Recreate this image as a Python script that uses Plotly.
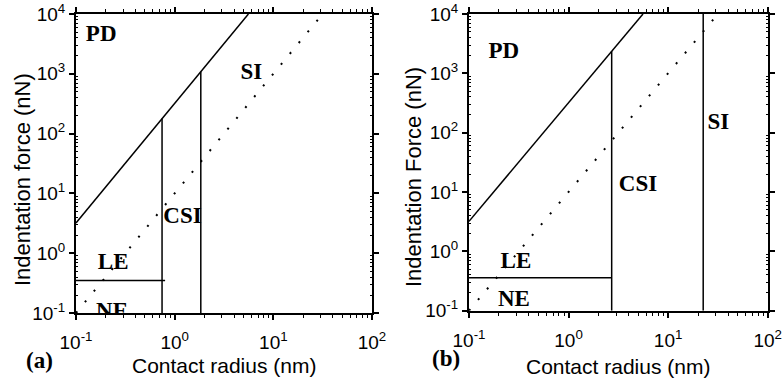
import plotly.graph_objects as go

# ---------------- data ----------------
# PD / elastic boundary (solid), same in both panels
pd_a = [0.1, 5.59]
pd_F = [3.2, 10000]
# dotted line, same in both panels
dot_a = [0.1, 31.6]
dot_F = [0.1, 10000]

# panel (a)
a_v1_a = [0.745, 0.745]
a_v1_F = [0.1, 178]
a_v2_a = [1.84, 1.84]
a_v2_F = [0.1, 1083]
a_h_a = [0.1, 0.8]
a_h_F = [0.35, 0.35]

# panel (b)
b_v1_a = [2.71, 2.71]
b_v1_F = [0.1, 2350]
b_v2_a = [22.5, 22.5]
b_v2_F = [0.1, 10000]
b_h_a = [0.1, 2.71]
b_h_F = [0.36, 0.36]

# region labels
labels = ["PD", "SI", "CSI", "LE", "NE"]
a_lab_x = [0.18, 6.0, 1.2, 0.238, 0.232]
a_lab_y = [4470, 1020, 4.0, 0.686, 0.104]
b_lab_x = [0.224, 32, 4.98, 0.296, 0.283]
b_lab_y = [2290, 145, 13, 0.66, 0.15]

# tick labels
x_tickvals = [0.1, 1, 10, 100]
x_ticktext = ["10<sup>-1</sup>", "10<sup>0</sup>", "10<sup>1</sup>", "10<sup>2</sup>"]
y_tickvals = [0.1, 1, 10, 100, 1000, 10000]
y_ticktext = ["10<sup>-1</sup>", "10<sup>0</sup>", "10<sup>1</sup>", "10<sup>2</sup>",
              "10<sup>3</sup>", "10<sup>4</sup>"]
x_minor = [m * 10 ** e for e in (-1, 0, 1) for m in range(2, 10)]
y_minor = [m * 10 ** e for e in (-1, 0, 1, 2, 3) for m in range(2, 10)]

W, H = 782, 379
SANS = "Liberation Sans, Arial, sans-serif"
SERIF = "Liberation Serif, Times New Roman, serif"

fig = go.Figure()

solid = dict(color="black", width=1.5)
dotted = dict(color="black", width=2, dash="2px,12px")


def add_line(x, y, line, xa, ya):
    fig.add_trace(go.Scatter(x=x, y=y, mode="lines", line=line, xaxis=xa, yaxis=ya,
                             showlegend=False, hoverinfo="skip", cliponaxis=True))


# panel a
add_line(pd_a, pd_F, solid, "x", "y")
add_line(dot_a, dot_F, dotted, "x", "y")
add_line(a_v1_a, a_v1_F, solid, "x", "y")
add_line(a_v2_a, a_v2_F, solid, "x", "y")
add_line(a_h_a, a_h_F, solid, "x", "y")
# panel b
add_line(pd_a, pd_F, solid, "x2", "y2")
add_line(dot_a, dot_F, dotted, "x2", "y2")
add_line(b_v1_a, b_v1_F, solid, "x2", "y2")
add_line(b_v2_a, b_v2_F, solid, "x2", "y2")
add_line(b_h_a, b_h_F, solid, "x2", "y2")

lab_font = dict(family=SERIF, size=23, color="black", weight="bold")
fig.add_trace(go.Scatter(x=a_lab_x, y=a_lab_y, text=labels, mode="text",
                         textposition="middle center", textfont=lab_font,
                         xaxis="x", yaxis="y", showlegend=False, hoverinfo="skip",
                         cliponaxis=True))
fig.add_trace(go.Scatter(x=b_lab_x, y=b_lab_y, text=labels, mode="text",
                         textposition="middle center", textfont=lab_font,
                         xaxis="x2", yaxis="y2", showlegend=False, hoverinfo="skip",
                         cliponaxis=True))

tickfont = dict(family=SANS, size=19, color="black")


def xaxis(domain, anchor):
    return dict(type="log", range=[-1, 2], domain=domain, anchor=anchor, automargin=False,
                tickmode="array", tickvals=x_tickvals, ticktext=x_ticktext,
                ticks="outside", ticklen=5, tickwidth=1.5, tickcolor="black",
                ticklabelstandoff=6,
                minor=dict(tickmode="array", tickvals=x_minor, ticks="outside",
                           ticklen=3, tickwidth=1, tickcolor="black", showgrid=False),
                showline=True, linewidth=2, linecolor="black", mirror="ticks",
                showgrid=False, zeroline=False, tickfont=tickfont)


def yaxis(domain, anchor):
    return dict(type="log", range=[-1, 4], domain=domain, anchor=anchor, automargin=False,
                tickmode="array", tickvals=y_tickvals, ticktext=y_ticktext,
                ticks="outside", ticklen=5, tickwidth=1.5, tickcolor="black",
                minor=dict(tickmode="array", tickvals=y_minor, ticks="inside",
                           ticklen=2, tickwidth=1, tickcolor="black", showgrid=False),
                showline=True, linewidth=2, linecolor="black", mirror="ticks",
                showgrid=False, zeroline=False, tickfont=tickfont)


fig.update_layout(
    template="none",
    width=W, height=H,
    margin=dict(l=0, r=0, t=0, b=0, autoexpand=False),
    paper_bgcolor="white", plot_bgcolor="white",
    showlegend=False,
    xaxis=xaxis([76 / W, 372 / W], "y"),
    yaxis=yaxis([1 - 313 / H, 1 - 14 / H], "x"),
    xaxis2=xaxis([469 / W, 767.7 / W], "y2"),
    yaxis2=yaxis([1 - 310.7 / H, 1 - 14 / H], "x2"),
)


def ann(text, px, py, font, angle=0):
    fig.add_annotation(text=text, x=px / W, y=1 - py / H, xref="paper", yref="paper",
                       xanchor="center", yanchor="middle", showarrow=False,
                       font=font, textangle=angle)


title_font = dict(family=SANS, size=21, color="black")
ytitle_font = dict(family=SANS, size=22, color="black")
panel_font = dict(family=SERIF, size=23, color="black", weight="bold")
ann("Contact radius (nm)", 224, 365, title_font)
ann("Contact radius (nm)", 618, 366, title_font)
ann("Indentation force (nN)", 22, 180, ytitle_font, -90)
ann("Indentation Force (nN)", 413, 177, ytitle_font, -90)
ann("(a)", 39, 360, panel_font)
ann("(b)", 446, 358, panel_font)

fig.write_html("out.html")
